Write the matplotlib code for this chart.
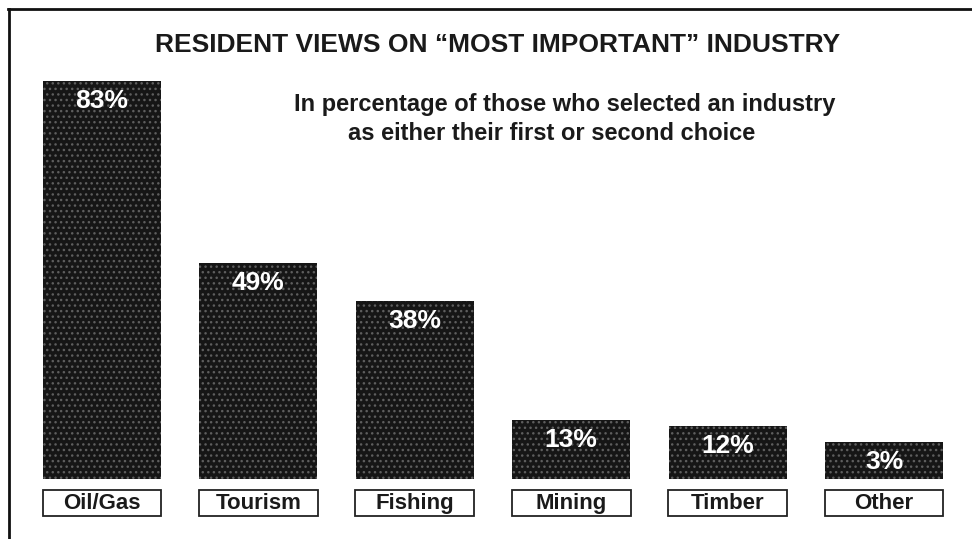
import matplotlib
matplotlib.use("Agg")
import matplotlib.pyplot as plt
from matplotlib.patches import Rectangle
from matplotlib.lines import Line2D

categories = ["Oil/Gas", "Tourism", "Fishing", "Mining", "Timber", "Other"]
percent_labels = [83, 49, 38, 13, 12, 3]
# bar heights as drawn in the picture (percentage units)
bar_heights = [83, 45, 37.1, 12.3, 11.0, 7.7]

title = "RESIDENT VIEWS ON \u201cMOST IMPORTANT\u201d INDUSTRY"
subtitle1 = "In percentage of those who selected an industry"
subtitle2 = "as either their first or second choice"

plt.rcParams['font.family'] = ['Liberation Sans', 'DejaVu Sans']

W, H = 972, 539
fig = plt.figure(figsize=(W / 100, H / 100), dpi=100)

# axes placement in pixels
px_per_unit = 4.795
left_px = 102 - 78.2
width_px = 6 * 156.4
bottom_px = H - 479
ytop = 95
ax = fig.add_axes([left_px / W, bottom_px / H, width_px / W, ytop * px_per_unit / H])
ax.set_xlim(-0.5, 5.5)
ax.set_ylim(0, ytop)
ax.axis('off')

x = list(range(len(categories)))
bars = ax.bar(x, bar_heights, width=0.755, color='#161616', hatch='...', linewidth=0)
for b in bars:
    b.set_edgecolor('#5e5e5e')

for i, (h, v) in enumerate(zip(bar_heights, percent_labels)):
    ax.text(i, h - 4.1, f"{v}%", color='white', fontsize=19, fontweight='bold',
            ha='center', va='center')

# label boxes
for i, c in enumerate(categories):
    ax.add_patch(Rectangle((i - 0.38, -7.8), 0.76, 5.6, facecolor='white',
                           edgecolor='#222222', linewidth=1.3, clip_on=False))
    ax.text(i, -5.1, c, fontsize=16, fontweight='bold', color='#1a1a1a',
            ha='center', va='center', clip_on=False)

fig.text(498 / W, 1 - 45 / H, title, fontsize=19, fontweight='bold',
         ha='center', va='center', color='#1a1a1a')
fig.text(565 / W, 1 - 104 / H, subtitle1, fontsize=17, fontweight='bold',
         ha='center', va='center', color='#1a1a1a')
fig.text(552 / W, 1 - 134 / H, subtitle2, fontsize=17, fontweight='bold',
         ha='center', va='center', color='#1a1a1a')

# frame lines (top and left)
fig.add_artist(Line2D([8 / W, 1], [1 - 9 / H, 1 - 9 / H], color='#111111', linewidth=2))
fig.add_artist(Line2D([8.5 / W, 8.5 / W], [0, 1 - 9 / H], color='#111111', linewidth=2))

fig.savefig("out.png", dpi=100, facecolor='white')
